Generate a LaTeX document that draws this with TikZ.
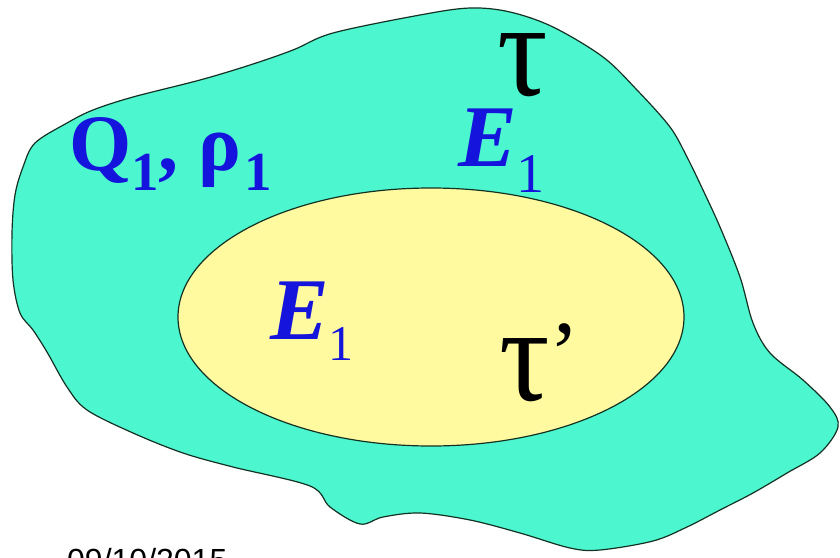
\documentclass[tikz,border=0pt]{standalone}
\usepackage{fontspec}
\setmainfont{Liberation Serif}
\newfontfamily\datefont{Liberation Sans}
\definecolor{seagreen}{RGB}{76,246,207}
\definecolor{paleyellow}{RGB}{255,250,160}
\definecolor{labelblue}{RGB}{20,20,220}
\definecolor{rimline}{RGB}{20,50,35}
\newcommand\dropsub[3]{\raisebox{-#2pt}{\fontsize{#1}{#1}\selectfont #3}}
\newcommand\widetau{\scalebox{1.4}[1.5]{τ}}
\begin{document}
\begin{tikzpicture}[x=1pt, y=-1pt,
    rim/.style={draw=rimline, line width=1.2pt},
    lbl/.style={anchor=base west, inner sep=0pt},
    bluelbl/.style={lbl, text=labelblue}]
  \useasboundingbox (0,0) rectangle (840,557);
  \clip (0,0) rectangle (840,557);
  \fill[white] (0,0) rectangle (840,557);
  \draw[rim, fill=seagreen] plot[smooth cycle, tension=0.55] coordinates {
    (470,8) (510,12) (553,27) (603,57) (637,90) (670,127) (687,157)
    (703,190) (720,227) (740,277) (753,323) (770,353) (803,380)
    (830,407) (838,427) (820,453) (787,473) (753,493) (720,510)
    (687,527) (653,541) (600,550) (570,548) (520,533) (470,520)
    (420,513) (383,517) (360,524) (330,507) (310,486) (233,467)
    (183,453) (133,433) (87,410) (67,387) (47,352) (33,330) (20,313)
    (13,280) (12,233) (15,195) (23,167) (35,143) (67,123) (93,110)
    (133,97) (200,80) (250,65) (293,50) (333,33) (420,15)};
  \draw[rim, fill=paleyellow] (431,317) ellipse [x radius=253, y radius=129];
  \node[bluelbl, font=\fontsize{80}{90}\selectfont\bfseries] (charge) at (69,170)
    {Q\dropsub{55}{20}{1},\hspace{20pt}ρ\hspace{3pt}\dropsub{55}{20}{1}};
  \node[lbl, font=\fontsize{90}{100}\selectfont] (outervol) at (497,95)
    {\widetau};
  \node[bluelbl, font=\fontsize{88}{96}\selectfont] (outerfield) at (458,166)
    {\textbf{\textit{E}}\dropsub{56}{26}{1}};
  \node[bluelbl, font=\fontsize{88}{96}\selectfont] (innerfield) at (270,339)
    {\textbf{\textit{E}}\dropsub{50}{21}{1}};
  \node[lbl, font=\fontsize{90}{100}\selectfont] (innervol) at (499,400)
    {\widetau\raisebox{17pt}{’}};
  \node[lbl, font=\datefont\fontsize{32}{36}\selectfont] (date) at (67,571)
    {09/10/2015};
\end{tikzpicture}
\end{document}
